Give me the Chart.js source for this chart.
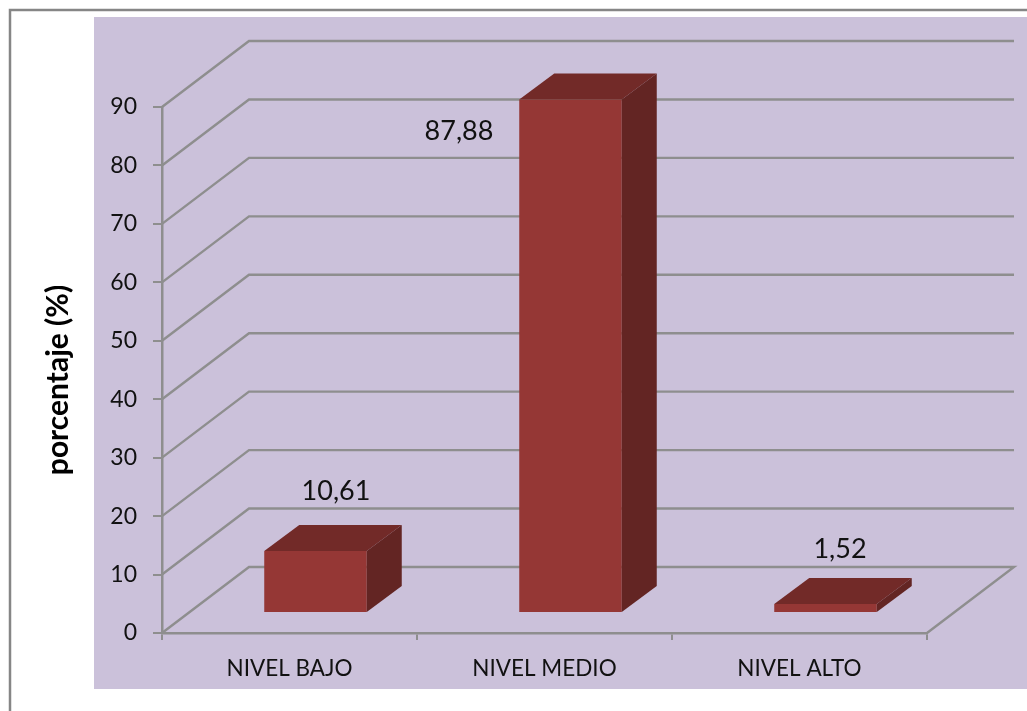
<!DOCTYPE html>
<html>
<head>
<meta charset="utf-8">
<style>
  html, body { margin: 0; padding: 0; background: #fff; overflow: hidden; }
  canvas { display: block; }
</style>
<script src="https://cdn.jsdelivr.net/npm/chart.js@4"></script>
</head>
<body>
<canvas id="myChart" width="1027" height="711"></canvas>
<script>
const categories = ['NIVEL BAJO', 'NIVEL MEDIO', 'NIVEL ALTO'];
const porcentaje = [10.61, 87.88, 1.52];
const axisTitle = 'porcentaje (%)';

const gridColor = '#8e8e8e';
const wallDepth = { x: 87, y: -66 };   // side wall / floor
const barDepth = { x: 35, y: -26 };    // box depth
const barShift = { x: 26, y: -20 };    // boxes stand inside the floor
const labelShift = [[46.5, -80], [-85.5, 12], [40.5, -75]];

// panel, outer frame and the 3d walls behind the bars
const background = {
    id: 'background',
    beforeDraw(chart) {
        const c = chart.ctx;
        const area = chart.chartArea;
        const y = chart.scales.y;
        c.save();
        c.fillStyle = '#cbc1da';
        c.fillRect(94, 17, 933, 672);
        c.strokeStyle = '#868686';
        c.lineWidth = 2.5;
        c.strokeRect(10, 10, 1100, 1100);

        c.strokeStyle = gridColor;
        c.lineWidth = 2.4;
        y.ticks.forEach(t => {
            const py = y.getPixelForValue(t.value);
            c.beginPath();
            c.moveTo(area.left, py);
            c.lineTo(area.left + wallDepth.x, py + wallDepth.y);
            c.lineTo(area.right + wallDepth.x, py + wallDepth.y);
            if (t.value === 0) c.lineTo(area.right, py);
            c.stroke();
        });

        // sits lower than the axis centre, so the scale title can't place it
        c.translate(58, 380);
        c.rotate(-Math.PI / 2);
        c.font = 'bold 30px Lato';
        c.fillStyle = '#000';
        c.textAlign = 'center';
        c.textBaseline = 'middle';
        c.fillText(axisTitle, 0, 0);
        c.restore();
    }
};

// front faces are the library's bars, only moved into the floor
const box3d = {
    id: 'box3d',
    beforeDatasetsDraw(chart) {
        chart.ctx.save();
        chart.ctx.translate(barShift.x, barShift.y);
    },
    afterDatasetsDraw(chart) {
        const c = chart.ctx;
        chart.getDatasetMeta(0).data.forEach((bar, i) => {
            const l = bar.x - bar.width / 2;
            const r = bar.x + bar.width / 2;
            c.fillStyle = '#722a28';
            c.beginPath();
            c.moveTo(l, bar.y);
            c.lineTo(l + barDepth.x, bar.y + barDepth.y);
            c.lineTo(r + barDepth.x, bar.y + barDepth.y);
            c.lineTo(r, bar.y);
            c.closePath();
            c.fill();
            c.fillStyle = '#632523';
            c.beginPath();
            c.moveTo(r, bar.y);
            c.lineTo(r + barDepth.x, bar.y + barDepth.y);
            c.lineTo(r + barDepth.x, bar.base + barDepth.y);
            c.lineTo(r, bar.base);
            c.closePath();
            c.fill();
        });
        c.restore();

        c.save();
        c.font = '27px Lato';
        c.fillStyle = '#111';
        c.textAlign = 'center';
        c.textBaseline = 'middle';
        chart.getDatasetMeta(0).data.forEach((bar, i) => {
            const txt = porcentaje[i].toFixed(2).replace('.', ',');
            c.fillText(txt, bar.x + labelShift[i][0], bar.y + labelShift[i][1]);
        });
        c.restore();
    }
};

new Chart(document.getElementById('myChart'), {
    type: 'bar',
    data: {
        labels: categories,
        datasets: [{
            label: axisTitle,
            data: porcentaje,
            backgroundColor: '#953735',
            barPercentage: 1,
            categoryPercentage: 0.402
        }]
    },
    options: {
        responsive: false,
        animation: false,
        layout: { padding: { left: 22, top: 107, right: 100, bottom: 23 } },
        plugins: {
            legend: { display: false },
            title: { display: false },
            tooltip: { enabled: false }
        },
        scales: {
            x: {
                afterFit(s) { s.height = 55; },
                grid: {
                    drawOnChartArea: false,
                    color: gridColor,
                    lineWidth: 2,
                    tickLength: 7
                },
                border: { color: gridColor, width: 2.5 },
                ticks: {
                    color: '#111',
                    padding: 15,
                    maxRotation: 0,
                    font: { family: 'Lato', size: 22.5 }
                }
            },
            y: {
                min: 0,
                max: 90,
                afterFit(s) { s.width = 140; },
                grid: {
                    drawOnChartArea: false,
                    color: gridColor,
                    lineWidth: 2,
                    tickLength: 9
                },
                border: { color: gridColor, width: 2.5 },
                ticks: {
                    stepSize: 10,
                    color: '#111',
                    padding: 16,
                    font: { family: 'Lato', size: 23 }
                }
            }
        }
    },
    plugins: [background, box3d]
});
</script>
</body>
</html>
